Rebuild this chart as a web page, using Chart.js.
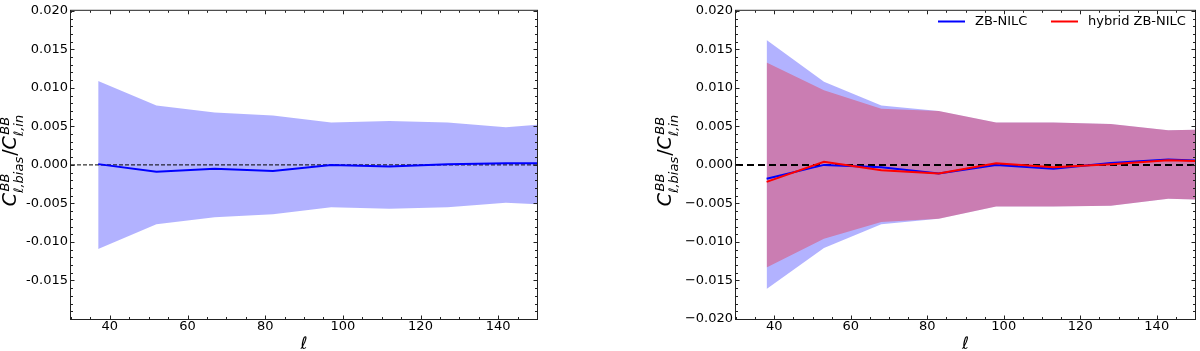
<!DOCTYPE html>
<html>
<head>
<meta charset="utf-8">
<script src="https://cdn.jsdelivr.net/npm/chart.js@4.4.1/dist/chart.umd.min.js"></script>
<style>
  body { margin: 0; background: #fff; overflow: hidden; }
  .panel { position: absolute; top: 0; width: 600px; height: 351px; }
</style>
</head>
<body>
<div class="panel" style="left:0"><canvas id="leftChart" width="600" height="351"></canvas></div>
<div class="panel" style="left:600px"><canvas id="rightChart" width="600" height="351"></canvas></div>
<script>
// ─── Left panel: single method ──────────────────────────────────────────────
var ELL_LEFT    = [37, 52, 67, 82, 97, 112, 127, 142, 157];
var BIAS_LEFT   = [0.0001, -0.0009, -0.0005, -0.0008, 0.0, -0.0002, 0.0001, 0.0002, 0.0002];
var ERR_UP_LEFT = [0.0109, 0.0077, 0.0068, 0.0064, 0.0055, 0.0057, 0.0055, 0.0049, 0.0055];
var ERR_LO_LEFT = [-0.0109, -0.0077, -0.0068, -0.0064, -0.0055, -0.0057, -0.0055, -0.0049, -0.0053];

// ─── Right panel: ZB-NILC vs hybrid ZB-NILC ─────────────────────────────────
var ELL_RIGHT = [38, 53, 68, 83, 98, 113, 128, 143, 158];
var ZB_BIAS   = [-0.0018, 0.0, -0.0003, -0.0011, 0.0, -0.0005, 0.00025, 0.0007, 0.0004];
var ZB_UP     = [0.0162, 0.0108, 0.0077, 0.0070, 0.0055, 0.0055, 0.0053, 0.0045, 0.0046];
var ZB_LO     = [-0.0161, -0.0108, -0.0077, -0.0070, -0.0054, -0.0054, -0.0053, -0.0044, -0.0046];
var HY_BIAS   = [-0.0022, 0.0004, -0.0007, -0.0011, 0.0002, -0.0003, 0.0001, 0.0006, 0.0004];
var HY_UP     = [0.0133, 0.0097, 0.0073, 0.0070, 0.0055, 0.0055, 0.0053, 0.0045, 0.0046];
var HY_LO     = [-0.0133, -0.0096, -0.0074, -0.0070, -0.0054, -0.0054, -0.0053, -0.0044, -0.0046];

var SERIES_LABELS = ['ZB-NILC', 'hybrid ZB-NILC'];

// axes
var X_MIN = 30, X_MAX = 150, Y_MIN = -0.02, Y_MAX = 0.02;
var X_MAJOR = [40, 60, 80, 100, 120, 140];
var Y_STEP = 0.005;

var FONT = '"DejaVu Sans", Verdana, sans-serif';

function pts(xs, ys) {
  return xs.map(function(x, i) { return { x: x, y: ys[i] }; });
}

function lineSet(xs, ys, color, width) {
  return { data: pts(xs, ys), borderColor: color, borderWidth: width, pointRadius: 0, fill: false, clip: 0, tension: 0 };
}

function bandSet(xs, ys, fillColor, fillTo) {
  return { data: pts(xs, ys), borderWidth: 0, borderColor: 'transparent', pointRadius: 0,
           backgroundColor: fillColor, fill: fillTo, clip: 0, tension: 0 };
}

function zeroSet(width, dash) {
  return { data: [{ x: X_MIN, y: 0 }, { x: X_MAX, y: 0 }], borderColor: '#000', borderWidth: width,
           borderDash: dash, pointRadius: 0, fill: false, clip: 0 };
}

// mathtext-ish y title: C^{BB}_{ℓ,bias}/C^{BB}_{ℓ,in}
function drawYTitle(ctx, bx, cy) {
  var fBig = 'italic 19px ' + FONT, fUp = '19px ' + FONT, fSm = 'italic 13px ' + FONT;
  var segs = [
    { t: 'C', f: fBig },
    { sup: 'BB', sub: 'ℓ,bias' },
    { t: '/', f: fUp },
    { t: 'C', f: fBig },
    { sup: 'BB', sub: 'ℓ,in' }
  ];
  var total = 0;
  segs.forEach(function(s) {
    if (s.t) { ctx.font = s.f; s.w = ctx.measureText(s.t).width; }
    else { ctx.font = fSm; s.w = Math.max(ctx.measureText(s.sup).width, ctx.measureText(s.sub).width) + 1; }
    total += s.w;
  });
  ctx.save();
  ctx.translate(bx, cy);
  ctx.rotate(-Math.PI / 2);
  ctx.fillStyle = '#000';
  ctx.textAlign = 'left';
  ctx.textBaseline = 'alphabetic';
  var x = -total / 2;
  segs.forEach(function(s) {
    if (s.t) { ctx.font = s.f; ctx.fillText(s.t, x, 0); }
    else {
      ctx.font = fSm;
      ctx.fillText(s.sup, x + 1.5, -7);
      ctx.fillText(s.sub, x, 7);
    }
    x += s.w;
  });
  ctx.restore();
}

function frameTicksPlugin(cfg) {
  return {
    id: 'frameTicks',
    afterDraw: function(chart) {
      var ctx = chart.ctx, a = chart.chartArea;
      var xs = chart.scales.x, ys = chart.scales.y;
      ctx.save();
      ctx.strokeStyle = '#222';
      ctx.lineWidth = 1;
      ctx.strokeRect(a.left - 0.5, a.top - 0.5, a.right - a.left + 1, a.bottom - a.top + 1);

      function tick(x1, y1, x2, y2) { ctx.beginPath(); ctx.moveTo(x1, y1); ctx.lineTo(x2, y2); ctx.stroke(); }
      // x ticks: major every 20, minor every 5
      for (var v = X_MIN; v <= X_MAX; v += 5) {
        var px = Math.round(xs.getPixelForValue(v)) + 0.5;
        var len = X_MAJOR.indexOf(v) >= 0 ? 3.5 : 2;
        tick(px, a.bottom, px, a.bottom - len);
        tick(px, a.top, px, a.top + len);
      }
      // y ticks: major every 0.005, minor every 0.001
      for (var k = -20; k <= 20; k++) {
        var py = Math.round(ys.getPixelForValue(k / 1000)) + 0.5;
        var ylen = (k % 5 === 0) ? 3.5 : 2;
        tick(a.left, py, a.left + ylen, py);
        tick(a.right, py, a.right - ylen, py);
      }

      // x title
      ctx.fillStyle = '#000';
      ctx.font = 'italic 17px ' + FONT;
      ctx.textAlign = 'center';
      ctx.textBaseline = 'alphabetic';
      ctx.fillText('ℓ', (a.left + a.right) / 2, 349);

      drawYTitle(ctx, cfg.titleX, 160);

      if (cfg.legend) {
        ctx.font = '13px ' + FONT;
        ctx.textAlign = 'left';
        ctx.textBaseline = 'middle';
        cfg.legend.forEach(function(l) {
          ctx.strokeStyle = l.color;
          ctx.lineWidth = 2;
          tick(l.x, 21.5, l.x + 27, 21.5);
          ctx.fillStyle = '#000';
          ctx.fillText(l.text, l.x + 37, 21.5);
        });
      }
      ctx.restore();
    }
  };
}

function makePanel(canvasId, datasets, cfg) {
  return new Chart(document.getElementById(canvasId), {
    type: 'line',
    data: { datasets: datasets },
    plugins: [frameTicksPlugin(cfg)],
    options: {
      responsive: false,
      animation: false,
      layout: { padding: { left: 0, right: cfg.padRight, top: 5, bottom: 0 } },
      plugins: { legend: { display: false }, tooltip: { enabled: false } },
      scales: {
        x: {
          type: 'linear', min: X_MIN, max: X_MAX,
          grid: { display: false, drawTicks: false },
          border: { display: false },
          afterBuildTicks: function(s) { s.ticks = X_MAJOR.map(function(v) { return { value: v }; }); },
          afterFit: function(s) { s.height = 32; },
          ticks: {
            padding: 0, color: '#000', maxRotation: 0, autoSkip: false,
            font: { family: FONT, size: 13 },
            callback: function(v) { return String(v); }
          }
        },
        y: {
          type: 'linear', min: Y_MIN, max: Y_MAX,
          grid: { display: false, drawTicks: false },
          border: { display: false },
          afterFit: function(s) { s.width = cfg.axisWidth; },
          ticks: {
            stepSize: Y_STEP, padding: 3, color: '#000',
            font: { family: FONT, size: 13 },
            callback: function(v) {
              if (Math.abs(v) < 1e-9) v = 0;
              if (cfg.hideBottom && v < -0.0199) return '';
              var s = Math.abs(v).toFixed(3);
              return v < 0 ? cfg.minus + s : s;
            }
          }
        }
      }
    }
  });
}

// left: draw order bottom→top = band, zero line, bias line
makePanel('leftChart', [
  lineSet(ELL_LEFT, BIAS_LEFT, '#0000ff', 2),
  zeroSet(1, [4, 2]),
  bandSet(ELL_LEFT, ERR_LO_LEFT, 'rgba(0,0,255,0.3)', '+1'),
  bandSet(ELL_LEFT, ERR_UP_LEFT, 'rgba(0,0,255,0.3)', false)
], { padRight: 63, axisWidth: 71, minus: '-', hideBottom: true, titleX: 16 });

// right: blue band, red band, zero line, blue line, red line
makePanel('rightChart', [
  lineSet(ELL_RIGHT, HY_BIAS, '#ff0000', 2),
  lineSet(ELL_RIGHT, ZB_BIAS, '#0000ff', 2),
  zeroSet(2, [7, 4]),
  bandSet(ELL_RIGHT, HY_LO, 'rgba(255,0,0,0.3)', '+1'),
  bandSet(ELL_RIGHT, HY_UP, 'rgba(255,0,0,0.3)', false),
  bandSet(ELL_RIGHT, ZB_LO, 'rgba(0,0,255,0.3)', '+1'),
  bandSet(ELL_RIGHT, ZB_UP, 'rgba(0,0,255,0.3)', false)
], {
  padRight: 5, axisWidth: 136, minus: '\u2212', hideBottom: false, titleX: 71,
  legend: [
    { text: SERIES_LABELS[0], color: '#0000ff', x: 338 },
    { text: SERIES_LABELS[1], color: '#ff0000', x: 451 }
  ]
});
</script>
</body>
</html>
